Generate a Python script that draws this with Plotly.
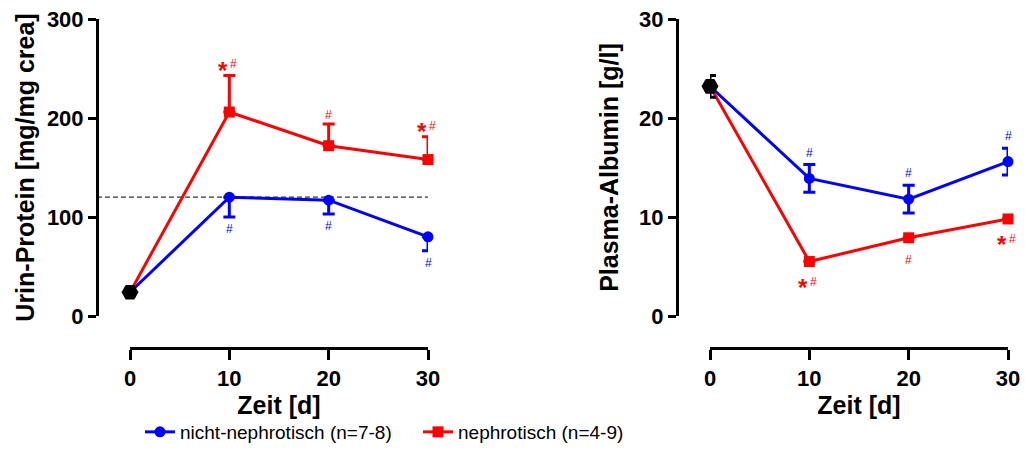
import plotly.graph_objects as go

# ---- data ----
days = [0, 10, 20, 30]
series_names = ["nicht-nephrotisch (n=7-8)", "nephrotisch (n=4-9)"]

protein_baseline = [24]
protein_nicht = [24, 120, 117, 80]
protein_nicht_sem = [0, 20, 14, 14]
protein_neph = [24, 206, 172, 158]
protein_neph_sem = [0, 37, 22, 23]
protein_threshold = 120

albumin_baseline = [23.2]
albumin_baseline_sem = [1.1]
albumin_nicht = [23.2, 13.9, 11.8, 15.6]
albumin_nicht_sem = [0, 1.4, 1.4, 1.35]
albumin_neph = [23.2, 5.5, 7.9, 9.8]
albumin_neph_sem = [0, 0, 0, 0]

protein_nicht_marks = ["", "#", "#", "#"]
protein_neph_marks = ["", "*#", "#", "*#"]
albumin_nicht_marks = ["", "#", "#", "#"]
albumin_neph_marks = ["", "*#", "#", "*#"]

xticks = [0, 10, 20, 30]
protein_ticks = [0, 100, 200, 300]
albumin_ticks = [0, 10, 20, 30]

BLUE = "#0000FF"
RED = "#FF0000"
FONT = "Liberation Sans, Arial, sans-serif"
W, H = 1025, 468

def px_x(p):
    return p / W

def px_y(p):
    return 1 - p / H

fig = go.Figure()

def add_series(xa, ya, y, sem_up, sem_dn, color, symbol, name, showlegend):
    fig.add_trace(go.Scatter(
        x=days, y=y, xaxis=xa, yaxis=ya, name=name, showlegend=showlegend,
        mode="lines+markers", cliponaxis=False,
        line=dict(color=color, width=3),
        marker=dict(color=color, symbol=symbol, size=11),
        error_y=dict(type="data", symmetric=False, array=sem_up, arrayminus=sem_dn,
                     color=color, thickness=3, width=6),
    ))

# left panel
add_series("x", "y", protein_nicht, [0] * 4, protein_nicht_sem, BLUE, "circle", series_names[0], True)
add_series("x", "y", protein_neph, protein_neph_sem, [0] * 4, RED, "square", series_names[1], True)
fig.add_trace(go.Scatter(x=days[:1], y=protein_baseline, xaxis="x", yaxis="y", mode="markers",
                         cliponaxis=False, showlegend=False,
                         marker=dict(color="black", symbol="hexagon2", size=17)))
# right panel
add_series("x2", "y2", albumin_nicht, albumin_nicht_sem, albumin_nicht_sem, BLUE, "circle", series_names[0], False)
add_series("x2", "y2", albumin_neph, albumin_neph_sem, albumin_neph_sem, RED, "square", series_names[1], False)
fig.add_trace(go.Scatter(x=days[:1], y=albumin_baseline, xaxis="x2", yaxis="y2", mode="markers",
                         cliponaxis=False, showlegend=False,
                         marker=dict(color="black", symbol="hexagon2", size=17),
                         error_y=dict(type="data", array=albumin_baseline_sem, color="black",
                                      thickness=3, width=6)))

# threshold dashed line
fig.add_shape(type="line", xref="paper", yref="y", layer="below",
              x0=px_x(97), x1=px_x(428), y0=protein_threshold, y1=protein_threshold,
              line=dict(color="#333333", width=1.3, dash="5px,3px"))

# significance marks: "*" large bold, "#" small and raised
def add_marks(xr, yr, vals, offs, marks, color, hash_shift, star_shift, pair_hash_shift):
    for xv, v, o, m in zip(days, vals, offs, marks):
        if not m:
            continue
        if m == "*#":
            fig.add_annotation(x=xv, y=v + o, xref=xr, yref=yr, text="<b>*</b>", showarrow=False,
                               yanchor="middle", yshift=star_shift, xshift=-6,
                               font=dict(family=FONT, size=24, color=color))
            fig.add_annotation(x=xv, y=v + o, xref=xr, yref=yr, text="#", showarrow=False,
                               yanchor="middle", yshift=pair_hash_shift,
                               xshift=4, font=dict(family=FONT, size=12, color=color))
        else:
            fig.add_annotation(x=xv, y=v + o, xref=xr, yref=yr, text="#", showarrow=False,
                               yanchor="middle", yshift=hash_shift,
                               font=dict(family=FONT, size=12, color=color))

add_marks("x", "y", protein_neph, protein_neph_sem, protein_neph_marks, RED, 9, 5, 11)
add_marks("x", "y", protein_nicht, [-s for s in protein_nicht_sem], protein_nicht_marks, BLUE, -12, -12, -12)
add_marks("x2", "y2", albumin_nicht, albumin_nicht_sem, albumin_nicht_marks, BLUE, 12, 12, 12)
add_marks("x2", "y2", albumin_neph, [0] * 4, albumin_neph_marks, RED, -22, -26, -20)

axis_common = dict(showline=True, linewidth=3, linecolor="black", ticks="outside",
                   tickwidth=3, tickcolor="black", showgrid=False, zeroline=False,
                   tickfont=dict(family=FONT, size=22, color="black", weight="bold"))
title_font = dict(family=FONT, size=25, color="black", weight="bold")

fig.update_layout(
    width=W, height=H, margin=dict(l=0, r=0, t=0, b=0, autoexpand=False),
    paper_bgcolor="white", plot_bgcolor="white",
    xaxis=dict(domain=[px_x(130), px_x(428)], range=[0, 30], anchor="free", position=px_y(348),
               tickvals=xticks, ticklen=10,
               title=dict(text="Zeit [d]", font=title_font, standoff=0), **axis_common),
    yaxis=dict(domain=[px_y(316), px_y(19)], range=[0, 300], anchor="free", position=px_x(97),
               tickvals=protein_ticks, ticklen=8,
               title=dict(text="Urin-Protein [mg/mg crea]", font=title_font, standoff=4),
               **axis_common),
    xaxis2=dict(domain=[px_x(710), px_x(1008)], range=[0, 30], anchor="free", position=px_y(348),
                tickvals=xticks, ticklen=10,
                title=dict(text="Zeit [d]", font=title_font, standoff=0), **axis_common),
    yaxis2=dict(domain=[px_y(316), px_y(19)], range=[0, 30], anchor="free", position=px_x(677),
                tickvals=albumin_ticks, ticklen=8,
                title=dict(text="Plasma-Albumin [g/l]", font=title_font, standoff=12),
                **axis_common),
    legend=dict(orientation="h", x=px_x(140), y=px_y(432), xanchor="left", yanchor="middle",
                font=dict(family=FONT, size=19, color="black"), entrywidth=233,
                bgcolor="rgba(0,0,0,0)"),
)

fig.write_html("out.html")
